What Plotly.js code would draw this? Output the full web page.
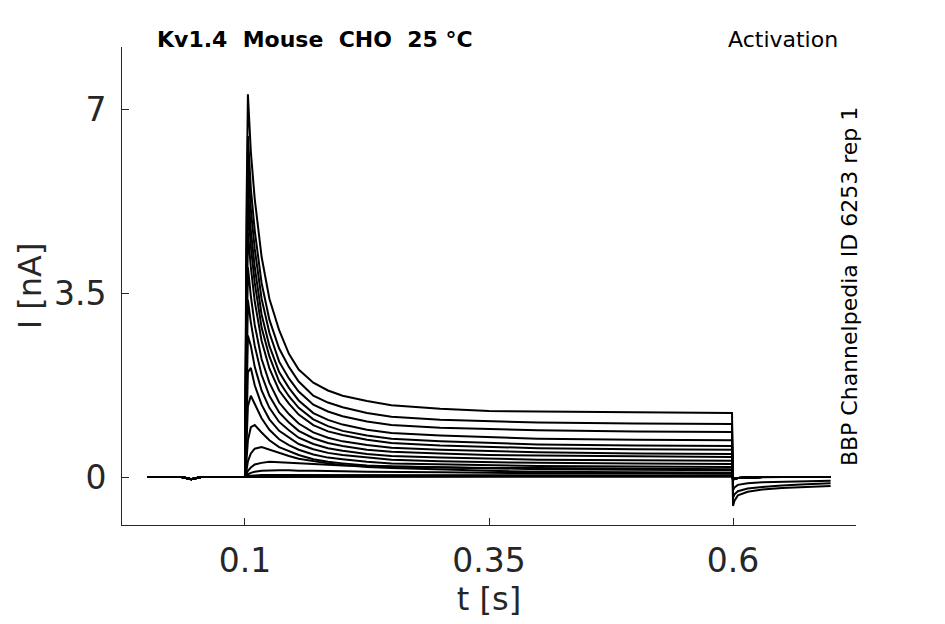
<!DOCTYPE html>
<html>
<head>
<meta charset="utf-8">
<script src="https://cdn.plot.ly/plotly-3.0.1.min.js"></script>
<style>
  body { margin: 0; background: #fff; }
  #chart { width: 945px; height: 624px; }
</style>
</head>
<body>
<div id="chart"></div>
<script>
// time bases [s]
var tPre  = [0, 0.035, 0.045, 0.055, 0.0995];
var tStep = [0.1, 0.1015, 0.103, 0.106, 0.11, 0.117, 0.125, 0.135, 0.145, 0.155,
             0.17, 0.185, 0.2, 0.225, 0.25, 0.3, 0.35, 0.4, 0.5, 0.599];
var tTail = [0.6, 0.6015, 0.605, 0.615, 0.63, 0.65, 0.675, 0.7];

// holding current before the step [nA]
var iPre = [0, 0, -0.04, 0, 0];

// current during the step, one array per sweep [nA]
var sweep01 = [0, 5.0, 7.3, 6.2, 5.3, 4.2, 3.4, 2.8, 2.35, 2.05, 1.8, 1.65, 1.55, 1.45, 1.37, 1.3, 1.26, 1.25, 1.24, 1.22];
var sweep02 = [0, 4.2, 6.5, 5.5, 4.7, 3.7, 3.0, 2.45, 2.1, 1.82, 1.55, 1.42, 1.33, 1.22, 1.15, 1.09, 1.06, 1.04, 1.02, 1.01];
var sweep03 = [0, 3.8, 6.0, 5.1, 4.35, 3.4, 2.75, 2.2, 1.88, 1.63, 1.38, 1.25, 1.16, 1.06, 0.99, 0.94, 0.91, 0.89, 0.87, 0.86];
var sweep04 = [0, 3.4, 5.5, 4.7, 4.0, 3.1, 2.5, 2.0, 1.7, 1.46, 1.22, 1.09, 1.0, 0.9, 0.84, 0.79, 0.76, 0.73, 0.71, 0.70];
var sweep05 = [0, 3.1, 5.15, 4.4, 3.7, 2.85, 2.3, 1.82, 1.54, 1.32, 1.1, 0.97, 0.88, 0.79, 0.73, 0.68, 0.65, 0.62, 0.6, 0.59];
var sweep06 = [0, 2.7, 4.66, 4.0, 3.35, 2.6, 2.07, 1.65, 1.4, 1.19, 0.99, 0.87, 0.8, 0.71, 0.65, 0.6, 0.57, 0.55, 0.53, 0.52];
var sweep07 = [0, 2.2, 4.0, 3.45, 2.9, 2.25, 1.8, 1.42, 1.2, 1.02, 0.85, 0.75, 0.68, 0.61, 0.56, 0.52, 0.49, 0.47, 0.45, 0.44];
var sweep08 = [0, 1.7, 3.38, 2.95, 2.5, 1.95, 1.55, 1.23, 1.04, 0.88, 0.74, 0.65, 0.59, 0.52, 0.48, 0.45, 0.42, 0.41, 0.39, 0.38];
var sweep09 = [0, 1.3, 2.7, 2.5, 2.1, 1.65, 1.32, 1.05, 0.89, 0.75, 0.63, 0.55, 0.5, 0.44, 0.4, 0.37, 0.35, 0.33, 0.32, 0.31];
var sweep10 = [0, 0.9, 2.0, 2.08, 1.75, 1.38, 1.1, 0.88, 0.75, 0.63, 0.53, 0.46, 0.42, 0.37, 0.33, 0.3, 0.28, 0.27, 0.26, 0.25];
var sweep11 = [0, 0.6, 1.35, 1.55, 1.4, 1.12, 0.9, 0.72, 0.61, 0.52, 0.43, 0.37, 0.34, 0.29, 0.26, 0.24, 0.22, 0.21, 0.2, 0.19];
var sweep12 = [0, 0.3, 0.7, 0.95, 0.99, 0.85, 0.7, 0.57, 0.49, 0.42, 0.34, 0.29, 0.26, 0.22, 0.2, 0.18, 0.16, 0.15, 0.14, 0.13];
var sweep13 = [0, 0.12, 0.3, 0.45, 0.54, 0.57, 0.52, 0.45, 0.4, 0.35, 0.3, 0.26, 0.23, 0.19, 0.17, 0.14, 0.12, 0.1, 0.09, 0.08];
var sweep14 = [0, 0.05, 0.12, 0.18, 0.24, 0.27, 0.29, 0.28, 0.27, 0.26, 0.24, 0.23, 0.22, 0.21, 0.2, 0.18, 0.17, 0.17, 0.16, 0.15];
var sweep15 = [0, 0.02, 0.05, 0.08, 0.1, 0.12, 0.13, 0.13, 0.13, 0.12, 0.12, 0.11, 0.11, 0.1, 0.1, 0.09, 0.08, 0.08, 0.07, 0.06];
var sweep16 = [0, 0.01, 0.02, 0.03, 0.03, 0.04, 0.04, 0.04, 0.04, 0.04, 0.04, 0.04, 0.04, 0.03, 0.03, 0.03, 0.03, 0.03, 0.03, 0.03];
var sweep17 = [0, 0, 0.01, 0.01, 0.01, 0.01, 0.01, 0.01, 0.01, 0.01, 0.01, 0.01, 0.01, 0.01, 0.01, 0.01, 0.01, 0.01, 0.01, 0.01];

// tail currents after the step [nA]
var tailA = [-0.55, -0.45, -0.35, -0.28, -0.24, -0.21, -0.19, -0.17];
var tailB = [-0.4, -0.33, -0.27, -0.22, -0.19, -0.16, -0.14, -0.12];
var tailC = [-0.25, -0.2, -0.15, -0.12, -0.1, -0.09, -0.08, -0.07];
var tailFlat = [-0.05, -0.03, -0.02, -0.01, 0, 0, 0, 0];

var sweeps = [sweep01, sweep02, sweep03, sweep04, sweep05, sweep06, sweep07, sweep08,
              sweep09, sweep10, sweep11, sweep12, sweep13, sweep14, sweep15, sweep16, sweep17];
var tails = [tailA, tailB, tailC];

var tAll = tPre.concat(tStep, tTail);
var data = sweeps.map(function (s, k) {
  var tail = tails[k] || tailFlat;
  return {
    type: 'scatter',
    mode: 'lines',
    x: tAll,
    y: iPre.concat(s, tail),
    hoverinfo: 'skip',
    line: { color: '#000', width: 2 }
  };
});

var fam = 'DejaVu Sans, sans-serif';
var tickFont = { family: fam, size: 33, color: '#262626' };
var labelFont = { family: fam, size: 32, color: '#262626' };
var noteFont = { family: fam, size: 22, color: '#000' };

var layout = {
  width: 945,
  height: 624,
  margin: { l: 122, r: 89, t: 47, b: 99 },
  paper_bgcolor: '#fff',
  plot_bgcolor: '#fff',
  showlegend: false,
  xaxis: {
    range: [-0.026, 0.726],
    tickvals: [0.1, 0.35, 0.6],
    ticktext: ['0.1', '0.35', '0.6'],
    ticks: 'inside',
    ticklen: 7,
    tickcolor: '#262626',
    ticklabelstandoff: 6,
    showline: true,
    linecolor: '#262626',
    linewidth: 1,
    showgrid: false,
    zeroline: false,
    automargin: false,
    tickfont: tickFont,
    title: { text: 't [s]', font: labelFont, standoff: 5 }
  },
  yaxis: {
    range: [-0.915, 8.2],
    tickvals: [0, 3.5, 7],
    ticktext: ['0', '3.5', '7'],
    ticks: 'inside',
    ticklen: 7,
    tickcolor: '#262626',
    ticklabelstandoff: 8,
    showline: true,
    linecolor: '#262626',
    linewidth: 1,
    showgrid: false,
    zeroline: false,
    automargin: false,
    tickfont: tickFont,
    title: { text: 'I [nA]', font: labelFont, standoff: 2 }
  },
  annotations: [
    {
      xref: 'paper', yref: 'paper', x: 0.045, y: 1.0, xanchor: 'left', yanchor: 'bottom',
      yshift: -7,
      text: '<b>Kv1.4&nbsp;&nbsp;Mouse&nbsp;&nbsp;CHO&nbsp;&nbsp;25 °C</b>', showarrow: false,
      font: noteFont
    },
    {
      xref: 'paper', yref: 'paper', x: 0.978, y: 1.0, xanchor: 'right', yanchor: 'bottom',
      yshift: -7,
      text: 'Activation', showarrow: false,
      font: noteFont
    },
    {
      xref: 'paper', yref: 'paper', x: 0.992, y: 0.498, xanchor: 'center', yanchor: 'middle',
      text: 'BBP Channelpedia ID 6253 rep 1', showarrow: false, textangle: -90,
      font: noteFont
    }
  ]
};

Plotly.newPlot('chart', data, layout, { displayModeBar: false, staticPlot: true });
</script>
</body>
</html>
